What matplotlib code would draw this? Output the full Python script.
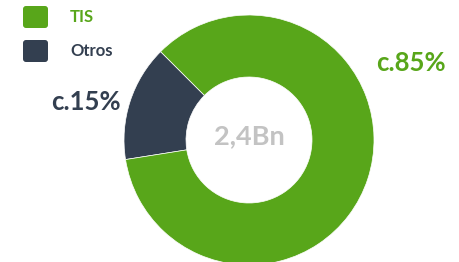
import matplotlib
matplotlib.use("Agg")
import matplotlib.pyplot as plt
from matplotlib.patches import FancyBboxPatch

# datos
labels = ["Otros", "TIS"]
shares = [15, 85]
colors = ["#333f50", "#58a61a"]
value_labels = ["c.15%", "c.85%"]
legend_labels = ["TIS", "Otros"]
legend_colors = ["#58a61a", "#333f50"]
center_text = "2,4Bn"

plt.rcParams["font.family"] = ["Lato", "DejaVu Sans"]

fig = plt.figure(figsize=(4.6, 2.62), dpi=100)
ax = fig.add_axes([0, 0, 1, 1])

# donut (y invertido -> counterclock=False gira en sentido antihorario visual)
ax.pie(shares, colors=colors, startangle=-135, counterclock=False,
       center=(249, 140), radius=125, frame=True,
       wedgeprops=dict(width=62, edgecolor="white", linewidth=0.5))
ax.set_xlim(0, 460)
ax.set_ylim(262, 0)
ax.set_aspect("equal")
ax.axis("off")

ax.text(249, 136, center_text, ha="center", va="center", fontsize=19.5,
        fontweight="bold", color="#c3c3c3")
ax.text(86, 102, value_labels[0], ha="center", va="center", fontsize=18.5,
        fontweight="bold", color=colors[0])
ax.text(411, 63, value_labels[1], ha="center", va="center", fontsize=18.5,
        fontweight="bold", color=colors[1])

# leyenda
for i, (lab, col) in enumerate(zip(legend_labels, legend_colors)):
    y0 = 5 + i * 34
    ax.add_patch(FancyBboxPatch((23, y0 + 1), 25, 22,
                                boxstyle="round,pad=0,rounding_size=3",
                                facecolor=col, edgecolor="none"))
    ax.text(70, y0 + 12, lab, ha="left", va="center", fontsize=12,
            fontweight="bold", color=col)

fig.savefig("out.png", dpi=100)
